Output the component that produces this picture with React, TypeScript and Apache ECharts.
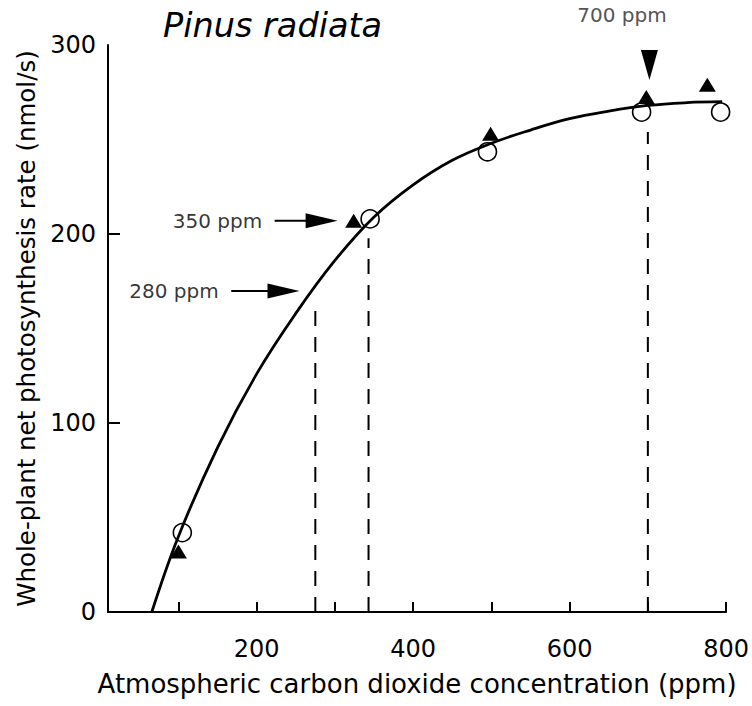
import React, { useEffect, useRef } from "react";
import * as echarts from "echarts";

// Fitted response curve (ppm, nmol/s)
const curveX = [66, 100, 150, 200, 250, 300, 350, 400, 450, 500, 550, 600, 650, 700, 750, 795];
const curveY = [0, 40, 87, 126, 158, 186, 209, 226, 239, 248, 255, 261, 265, 268, 269.5, 270];

// Open circles
const circleX = [105, 345, 495, 692, 793];
const circleY = [42, 208, 243.5, 264.5, 264.5];

// Filled triangles
const triangleX = [100, 324, 499, 698, 776];
const triangleY = [32, 207, 253, 272.5, 279];

// Dashed guide lines
const guideX = [275, 343, 700];
const guideTop = [161.5, 197.7, 254];

// Horizontal arrows
const arrowLabels = ["280 ppm", "350 ppm"];
const arrowStartX = [167.5, 223];
const arrowHeadX = [234.3, 283];
const arrowY = [169.8, 207];

// Downward arrow (700 ppm)
const topArrowLabel = "700 ppm";
const topArrowX = 702;
const topArrowY = 289.4;

// Axis ticks / labels
const xTickValues = [100, 200, 300, 400, 500, 600, 700, 800];
const xLabelValues = [200, 400, 600, 800];
const yTickValues = [100, 200];

const FONT = "DejaVu Sans";

export default function App() {
  const ref = useRef<HTMLDivElement>(null);

  useEffect(() => {
    document.body.style.margin = "0";
    if (!ref.current) return;
    const chart = echarts.init(ref.current, null, { renderer: "svg" });

    const guideSeries = guideX.map((gx, i) => ({
      type: "line",
      data: [
        [gx, 0],
        [gx, guideTop[i]],
      ],
      symbol: "none",
      silent: true,
      lineStyle: { color: "#000", width: 2, type: [15, 11] },
      z: 2,
    }));

    const shaftSeries = arrowStartX.map((sx, i) => ({
      type: "line",
      data: [
        [sx, arrowY[i]],
        [arrowHeadX[i], arrowY[i]],
      ],
      symbol: "none",
      silent: true,
      lineStyle: { color: "#000", width: 2 },
      z: 3,
    }));

    const option: any = {
      animation: false,
      grid: { left: 108, right: 23, top: 45, bottom: 94, containLabel: false },
      xAxis: {
        type: "value",
        min: 10,
        max: 800,
        name: "Atmospheric carbon dioxide concentration (ppm)",
        nameLocation: "middle",
        nameGap: 59,
        nameTextStyle: { fontFamily: FONT, fontSize: 26, color: "#000" },
        axisLine: { show: true, lineStyle: { color: "#000", width: 2 } },
        axisTick: {
          show: true,
          inside: true,
          length: 10,
          customValues: xTickValues,
          lineStyle: { color: "#000", width: 2 },
        },
        axisLabel: {
          show: true,
          customValues: xLabelValues,
          fontFamily: FONT,
          fontSize: 24,
          color: "#000",
          margin: 25,
        },
        splitLine: { show: false },
      },
      yAxis: {
        type: "value",
        min: 0,
        max: 300,
        interval: 100,
        name: "Whole-plant net photosynthesis rate (nmol/s)",
        nameLocation: "middle",
        nameGap: 64,
        nameTextStyle: { fontFamily: FONT, fontSize: 24.5, color: "#000" },
        axisLine: { show: true, lineStyle: { color: "#000", width: 2 } },
        axisTick: {
          show: true,
          inside: true,
          length: 12,
          customValues: yTickValues,
          lineStyle: { color: "#000", width: 2 },
        },
        axisLabel: {
          fontFamily: FONT,
          fontSize: 24,
          color: "#000",
          margin: 12,
        },
        splitLine: { show: false },
      },
      graphic: [
        {
          type: "text",
          x: 163,
          y: 25,
          style: {
            text: "Pinus radiata",
            fontFamily: FONT,
            fontSize: 33.5,
            fontStyle: "italic",
            fill: "#000",
            verticalAlign: "middle",
            align: "left",
          },
        },
        {
          type: "text",
          x: 622,
          y: 15,
          style: {
            text: topArrowLabel,
            fontFamily: FONT,
            fontSize: 20,
            fill: "#555",
            verticalAlign: "middle",
            align: "center",
          },
        },
      ],
      series: [
        {
          type: "line",
          data: curveX.map((x, i) => [x, curveY[i]]),
          smooth: 0.4,
          symbol: "none",
          silent: true,
          lineStyle: { color: "#000", width: 2.8 },
          z: 3,
        },
        ...guideSeries,
        ...shaftSeries,
        {
          type: "scatter",
          data: circleX.map((x, i) => [x, circleY[i]]),
          symbol: "circle",
          symbolSize: 18,
          itemStyle: { color: "rgba(0,0,0,0)", borderColor: "#000", borderWidth: 1.6, opacity: 1 },
          z: 4,
        },
        {
          type: "scatter",
          data: triangleX.map((x, i) => [x, triangleY[i]]),
          symbol: "triangle",
          symbolSize: [17, 14],
          itemStyle: { color: "#000", opacity: 1 },
          z: 5,
        },
        {
          type: "scatter",
          data: arrowHeadX.map((x, i) => ({ value: [x, arrowY[i]], symbolRotate: -90 })),
          symbol: "triangle",
          symbolSize: [15, 32],
          itemStyle: { color: "#000", opacity: 1 },
          z: 5,
        },
        {
          type: "scatter",
          data: [{ value: [topArrowX, topArrowY], symbolRotate: 180 }],
          symbol: "triangle",
          symbolSize: [17, 30],
          itemStyle: { color: "#000", opacity: 1 },
          z: 5,
        },
        {
          type: "scatter",
          data: arrowStartX.map((x, i) => ({
            value: [x, arrowY[i]],
            label: { formatter: arrowLabels[i] },
          })),
          symbol: "circle",
          symbolSize: 1,
          itemStyle: { color: "rgba(0,0,0,0)" },
          label: {
            show: true,
            position: "left",
            distance: 12,
            fontFamily: FONT,
            fontSize: 20,
            color: "#000",
          },
          silent: true,
          z: 5,
        },
      ],
    };

    chart.setOption(option);
    return () => chart.dispose();
  }, []);

  return <div ref={ref} style={{ width: 752, height: 706 }} />;
}
